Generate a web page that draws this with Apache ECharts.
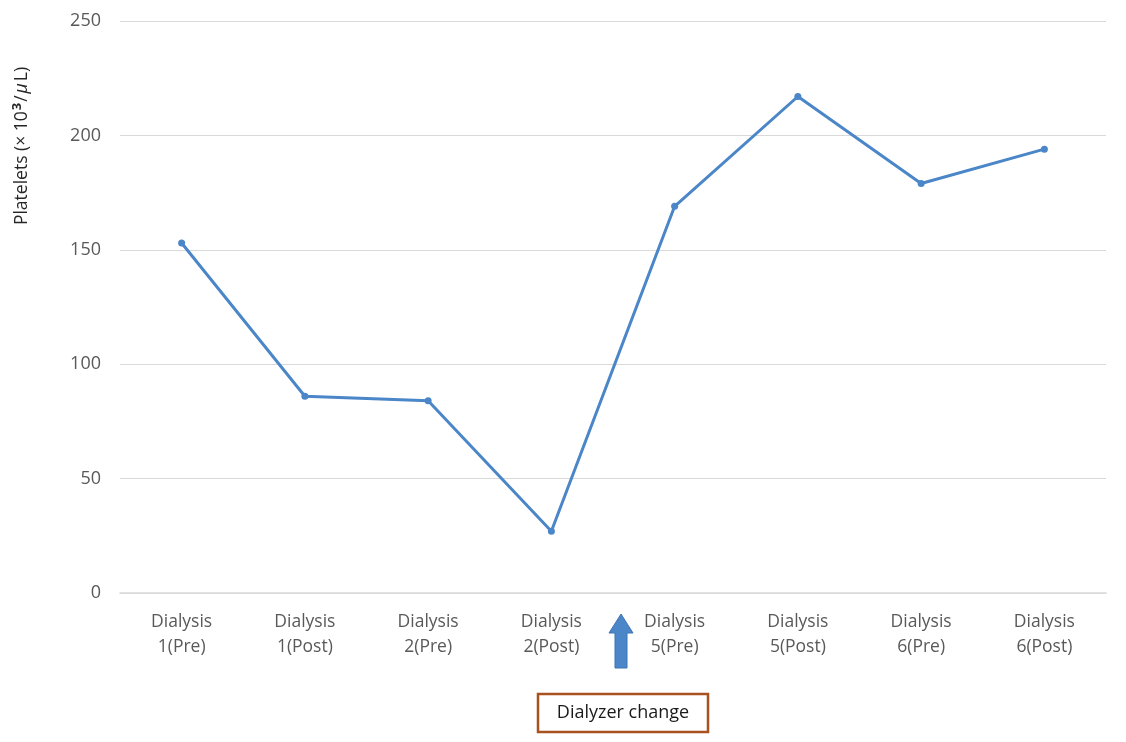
<!DOCTYPE html>
<html>
<head>
<meta charset="utf-8">
<script src="https://cdn.jsdelivr.net/npm/echarts@6/dist/echarts.min.js"></script>
<style>
  html, body { margin: 0; padding: 0; background: #fff; }
  #chart { width: 1126px; height: 742px; }
</style>
</head>
<body>
<div id="chart"></div>
<script>
// Platelet counts across dialysis sessions
const categories = [
  'Dialysis\n1(Pre)', 'Dialysis\n1(Post)', 'Dialysis\n2(Pre)', 'Dialysis\n2(Post)',
  'Dialysis\n5(Pre)', 'Dialysis\n5(Post)', 'Dialysis\n6(Pre)', 'Dialysis\n6(Post)'
];
const platelets = [153, 86, 84, 27, 169, 217, 179, 194];
const yTicks = { min: 0, max: 250, interval: 50 };

const FONT = '"Open Sans", "Noto Sans", sans-serif';
const chart = echarts.init(document.getElementById('chart'));

chart.setOption({
  animation: false,
  grid: { left: 120, right: 20, top: 21, bottom: 149, outerBoundsMode: 'none', containLabel: false },
  xAxis: {
    type: 'category',
    data: categories,
    boundaryGap: true,
    axisLine: { lineStyle: { color: '#d9d9d9', width: 1.5 } },
    axisTick: { show: false },
    axisLabel: {
      color: '#595959', fontSize: 17.5, fontFamily: FONT,
      lineHeight: 25, margin: 17, interval: 0
    }
  },
  yAxis: {
    type: 'value',
    min: yTicks.min, max: yTicks.max, interval: yTicks.interval,
    axisLine: { show: false },
    axisTick: { show: false },
    splitLine: { lineStyle: { color: '#d9d9d9', width: 1 } },
    axisLabel: { color: '#595959', fontSize: 18, fontFamily: FONT, margin: 19 }
  },
  series: [{
    type: 'line',
    data: platelets,
    symbol: 'circle',
    symbolSize: 7,
    lineStyle: { color: '#4a86c8', width: 3 },
    itemStyle: { color: '#4a86c8' }
  }],
  graphic: [
    // vertical y-axis title
    {
      type: 'text',
      x: 22, y: 146,
      rotation: Math.PI / 2,
      style: {
        text: '{n|Platelets (× 10}{s|3}{n|/}{i|μ}{n|L)}',
        align: 'center', verticalAlign: 'middle',
        rich: {
          n: { fontSize: 17.5, fill: '#262626', fontFamily: FONT },
          s: { fontSize: 13, fill: '#262626', fontFamily: FONT, fontWeight: 'bold', padding: [0, 1, 9, 1] },
          i: { fontSize: 17.5, fill: '#262626', fontFamily: FONT, fontStyle: 'italic', padding: [0, 2, 0, 2] }
        }
      }
    },
    // upward arrow marking the dialyzer change
    {
      type: 'polygon',
      shape: { points: [[621, 614], [633, 633], [627, 633], [627, 668], [615, 668], [615, 633], [609, 633]] },
      style: { fill: '#4a86c8', stroke: '#3d74b4', lineWidth: 1 }
    },
    {
      type: 'rect',
      shape: { x: 538, y: 694, width: 170, height: 38 },
      style: { fill: '#fff', stroke: '#a9521f', lineWidth: 2.5 }
    },
    {
      type: 'text',
      x: 623, y: 713,
      style: {
        text: 'Dialyzer change', fill: '#1a1a1a', fontSize: 18, fontFamily: FONT,
        align: 'center', verticalAlign: 'middle'
      }
    }
  ]
});
</script>
</body>
</html>
